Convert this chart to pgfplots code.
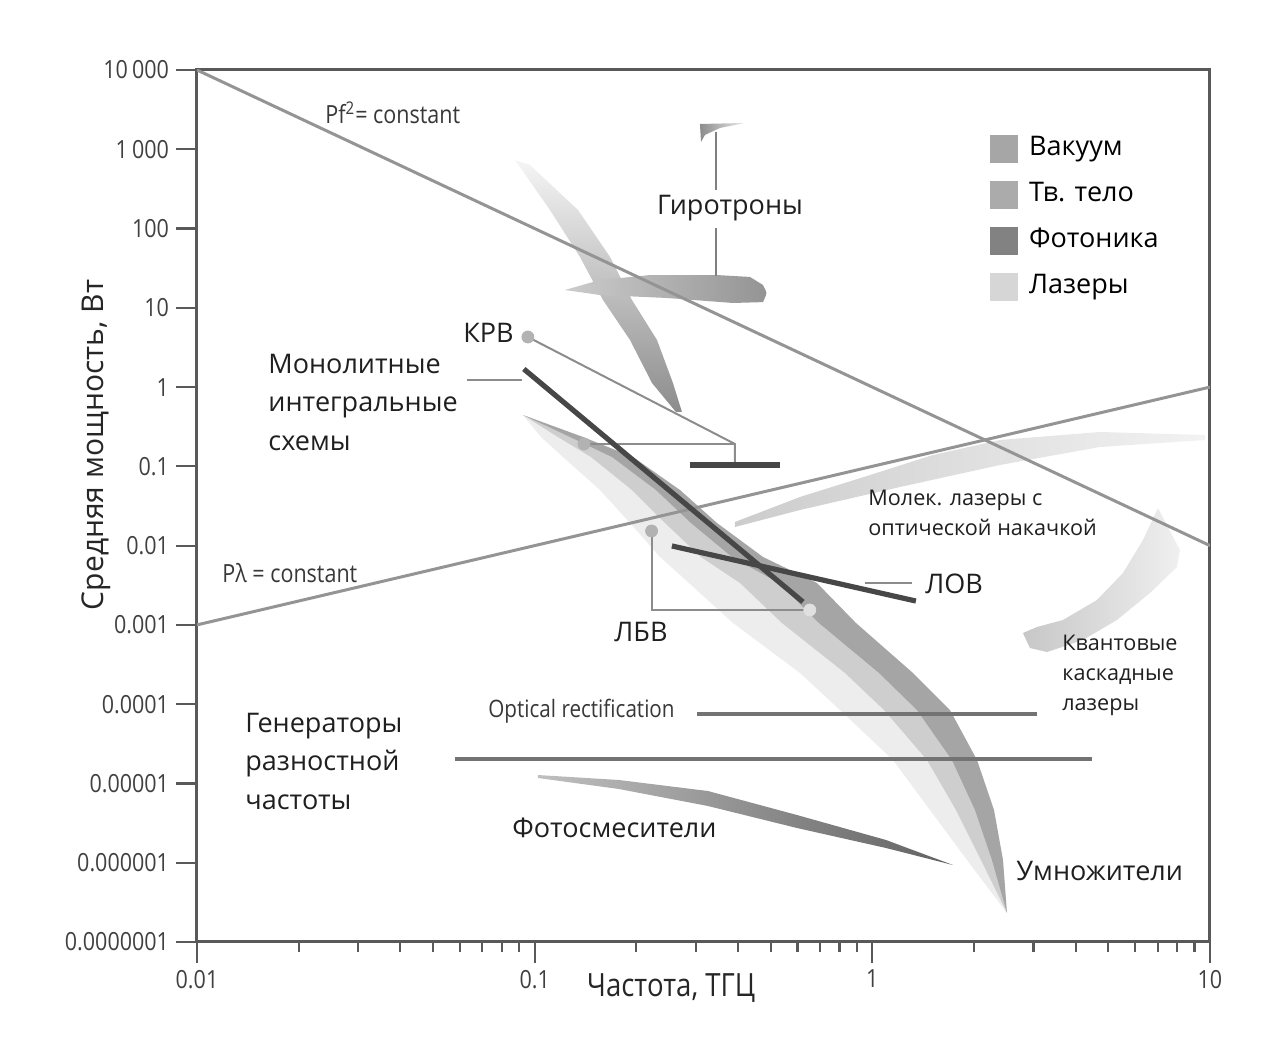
\documentclass[border=0pt]{standalone}
\usepackage{fontspec}
\setmainfont{Open Sans}
\newfontfamily\cond[FakeStretch=0.86]{Open Sans}
\usepackage{pgfplots}
\pgfplotsset{compat=1.18}

\begin{document}
\begin{tikzpicture}
\tikzset{
  lab/.style={font=\fontsize{13.5}{19.25}\selectfont, text=black!88, inner sep=0pt},
  slab/.style={font=\fontsize{10.8}{15}\selectfont, text=black!88, inner sep=0pt},
  clab/.style={font=\cond\fontsize{12.5}{14}\selectfont, text=black!78, inner sep=0pt},
}
\path[use as bounding box] (-98.5pt,-55pt) rectangle (534.5pt,471pt);
\begin{axis}[
  at={(0pt,0pt)}, anchor=south west,
  scale only axis, width=506.5pt, height=436pt,
  xmode=log, ymode=log,
  xmin=0.01, xmax=10, ymin=1e-7, ymax=1e4,
  xtick={0.01,0.1,1,10},
  xticklabels={0.01,0.1,1,10},
  minor xtick={0.02,0.03,0.04,0.05,0.06,0.07,0.08,0.09,0.2,0.3,0.4,0.5,0.6,0.7,0.8,0.9,2,3,4,5,6,7,8,9},
  ytick={1e-7,1e-6,1e-5,1e-4,1e-3,1e-2,1e-1,1,10,100,1000,10000},
  yticklabels={0.0000001,0.000001,0.00001,0.0001,0.001,0.01,0.1,1,10,100,1\,000,10\,000},
  minor ytick={1e-9},
  tick pos=left,
  tick align=outside,
  major tick length=10.5pt,
  minor tick length=5pt,
  tick style={black!65, line width=1.1pt},
  axis line style={black!65, line width=1.5pt},
  ticklabel style={font=\cond\fontsize{12.5}{14}\selectfont, text=black!75},
  xlabel={Частота, ТГЦ},
  xlabel style={at={(rel axis cs:0.468,-0.0528)}, anchor=center, font=\cond\fontsize{16}{18}\selectfont, text=black!85},
  ylabel={Средняя мощность, Вт},
  ylabel style={at={(rel axis cs:-0.0997,0.570)}, anchor=center, font=\fontsize{15}{17}\selectfont, text=black!85},
  legend style={at={(rel axis cs:0.7828,0.9294)}, anchor=north west, draw=none, fill=none,
    inner sep=0pt, row sep=6pt, font=\fontsize{13.5}{16}\selectfont,
    nodes={text height=10pt, text depth=3pt}},
  legend cell align=left,
]
% legend
\addlegendimage{legend image code/.code={\fill[black!35] (0pt,-6.75pt) rectangle (13.5pt,6.75pt); \path (17pt,0pt);}}
\addlegendentry{Вакуум}
\addlegendimage{legend image code/.code={\fill[black!33] (0pt,-6.75pt) rectangle (13.5pt,6.75pt); \path (17pt,0pt);}}
\addlegendentry{Тв. тело}
\addlegendimage{legend image code/.code={\fill[black!49] (0pt,-6.75pt) rectangle (13.5pt,6.75pt); \path (17pt,0pt);}}
\addlegendentry{Фотоника}
\addlegendimage{legend image code/.code={\fill[black!16] (0pt,-6.75pt) rectangle (13.5pt,6.75pt); \path (17pt,0pt);}}
\addlegendentry{Лазеры}

% lasers: molecular (optically pumped)
\addplot[draw=none, left color=black!20, right color=black!5] coordinates {
 (0.3920,0.01986) (0.6106,0.04106) (0.9643,0.07556) (1.512,0.1391) (2.388,0.2149) (4.723,0.2713) (9.664,0.2486)
 (9.664,0.2149) (4.723,0.1754) (2.388,0.1040) (1.208,0.05489) (0.6106,0.02814) (0.3920,0.01718)} -- cycle;
% lasers: QCL
\addplot[draw=none, left color=black!22, right color=black!6] coordinates {
 (2.793,7.900e-4) (3.074,9.406e-4) (3.670,0.001153) (4.628,0.002061) (5.525,0.004514) (6.333,0.011774) (7.015,0.02982)
 (8.149,0.008805) (7.984,0.005374) (6.642,0.002525) (5.303,0.001153) (4.206,6.449e-4) (3.291,4.550e-4) (2.930,5.110e-4)} -- cycle;

% solid state: multipliers (three layers)
\addplot[draw=none, fill=black, fill opacity=0.07] coordinates {
 (0.09235,0.4444) (0.1390,0.2346) (0.1955,0.1312) (0.2694,0.05031) (0.3467,0.01930) (0.4746,0.007184) (0.6857,0.003376)
 (0.8946,0.001056) (1.319,2.473e-4) (1.698,8.439e-5) (2.042,1.975e-5) (2.293,4.622e-6) (2.438,1.082e-6) (2.505,2.320e-7)
 (1.907,1.082e-6) (1.482,4.622e-6) (1.151,1.975e-5) (0.8021,8.439e-5) (0.6106,2.473e-4) (0.3867,0.001056)
 (0.2864,0.003376) (0.2350,0.007184) (0.1916,0.01930) (0.1561,0.05031) (0.1213,0.1312) (0.1044,0.2346)} -- cycle;
\addplot[draw=none, fill=black, fill opacity=0.13] coordinates {
 (0.09235,0.4444) (0.1390,0.2346) (0.1955,0.1312) (0.2694,0.05031) (0.3467,0.01930) (0.4746,0.007184) (0.6857,0.003376)
 (0.8946,0.001056) (1.319,2.473e-4) (1.698,8.439e-5) (2.042,1.975e-5) (2.293,4.622e-6) (2.438,1.082e-6) (2.505,2.320e-7)
 (2.098,1.082e-6) (1.769,4.622e-6) (1.452,1.975e-5) (1.083,8.439e-5) (0.8300,2.473e-4) (0.5400,0.001056)
 (0.4056,0.003376) (0.3109,0.007184) (0.2432,0.01930) (0.1942,0.05031) (0.1468,0.1312) (0.1172,0.2346)} -- cycle;
\addplot[draw=none, fill=black, fill opacity=0.2] coordinates {
 (0.09235,0.4444) (0.1390,0.2346) (0.1955,0.1312) (0.2694,0.05031) (0.3467,0.01930) (0.4746,0.007184) (0.6857,0.003376)
 (0.8946,0.001056) (1.319,2.473e-4) (1.698,8.439e-5) (2.042,1.975e-5) (2.293,4.622e-6) (2.438,1.082e-6) (2.505,2.320e-7)
 (2.261,1.082e-6) (2.014,4.622e-6) (1.721,1.975e-5) (1.356,8.439e-5) (1.047,2.473e-4) (0.6951,0.001056)
 (0.5291,0.003376) (0.3841,0.007184) (0.2904,0.01930) (0.2287,0.05031) (0.1694,0.1312) (0.1273,0.2346)} -- cycle;

% vacuum: streak
\addplot[draw=none, top color=black!4, bottom color=black!45] coordinates {
 (0.0875,732) (0.1110,171.4) (0.1362,43.8) (0.1594,12.54) (0.1916,3.93) (0.2226,1.126) (0.2621,0.485)
 (0.2731,0.485) (0.2568,1.126) (0.2303,3.93) (0.1942,12.54) (0.1672,43.8) (0.1344,171.4) (0.0969,633)} -- cycle;
% vacuum: gyrotrons
\addplot[draw=none, left color=black!20, right color=black!42] coordinates {
 (0.1229,16.78) (0.1561,22.4) (0.2196,25.9) (0.3467,25.9) (0.4342,24.5) (0.4745,19.4) (0.4875,15.4)
 (0.4745,11.8) (0.3866,11.5) (0.2465,13.3) (0.1561,14.5)} -- cycle;
\addplot[draw=none, left color=black!45, right color=black!8] coordinates {
 (0.3087,2083) (0.4198,2145) (0.3539,1855) (0.3194,1514) (0.311,1236)} -- cycle;

% photonics: photomixers
\addplot[draw=none, left color=black!25, right color=black!62] coordinates {
 (0.1023,1.277e-5) (0.1777,1.105e-5) (0.3261,8.025e-6) (0.5983,3.997e-6) (1.098,1.934e-6) (1.733,9.354e-7)
 (1.098,1.533e-6) (0.5983,2.740e-6) (0.3261,5.191e-6) (0.1777,8.505e-6) (0.1023,1.171e-5)} -- cycle;

% limit lines
\addplot[black!42, line width=1.5pt] coordinates {(0.01,10000) (10,0.01)};
\addplot[black!42, line width=1.5pt] coordinates {(0.01,0.001) (10,1)};

% thin leaders
\addplot[black!45, line width=1pt] coordinates {(0.0955,4.28) (0.392,0.1914) (0.392,0.104)};
\addplot[black!45, line width=1pt] coordinates {(0.140,0.1914) (0.392,0.1914)};
\addplot[black!45, line width=1pt] coordinates {(0.0630,1.227) (0.0917,1.227)};
\addplot[black!45, line width=1pt] coordinates {(0.222,0.0153) (0.222,0.00154) (0.653,0.00154)};
\addplot[black!45, line width=1pt] coordinates {(0.95,0.00338) (1.31,0.00338)};
\addplot[black!50, line width=1pt] coordinates {(0.3444,1652) (0.3444,306)};
\addplot[black!50, line width=1pt] coordinates {(0.3444,101.6) (0.3444,25.2)};

% thick device lines
\addplot[black!72, line width=2.6pt] coordinates {(0.0929,1.69) (0.623,0.00195)};
\addplot[black!72, line width=2.6pt] coordinates {(0.288,0.104) (0.532,0.104)};
\addplot[black!72, line width=2.6pt] coordinates {(0.255,0.0099) (1.346,0.0020)};

% photonics horizontal lines
\addplot[black!55, line width=2pt] coordinates {(0.303,7.52e-5) (3.07,7.52e-5)};
\addplot[black!55, line width=2pt] coordinates {(0.0581,2.03e-5) (4.47,2.03e-5)};

% dots
\addplot[black!30, only marks, mark=*, mark size=3pt, mark options={draw=black!30, fill=black!30}] coordinates {(0.0955,4.28) (0.140,0.1914) (0.222,0.0153)};
\addplot[black!12, only marks, mark=*, mark size=3pt, mark options={draw=black!12, fill=black!12}] coordinates {(0.653,0.00154)};

% labels
\node[clab, anchor=west] at (rel axis cs:0.1264,0.9507) {Pf\textsuperscript{2}= constant};
\node[lab, anchor=center] at (rel axis cs:0.5262,0.8417) {Гиротроны};
\node[lab, anchor=west] at (rel axis cs:0.2626,0.6984) {КРВ};
\node[lab, anchor=west, align=left] at (rel axis cs:0.0701,0.6187) {Монолитные\\интегральные\\схемы};
\node[slab, anchor=west, align=left] at (rel axis cs:0.6624,0.4920) {Молек. лазеры с\\оптической накачкой};
\node[clab, anchor=west] at (rel axis cs:0.0247,0.4232) {Pλ = constant};
\node[lab, anchor=west] at (rel axis cs:0.7187,0.4106) {ЛОВ};
\node[lab, anchor=center] at (rel axis cs:0.4383,0.3555) {ЛБВ};
\node[slab, anchor=west, align=left] at (rel axis cs:0.8539,0.3062) {Квантовые\\каскадные\\лазеры};
\node[clab, anchor=west, font=\cond\fontsize{12}{14}\selectfont] at (rel axis cs:0.2873,0.2649) {Optical rectification};
\node[lab, anchor=west, align=left] at (rel axis cs:0.0474,0.2070) {Генераторы\\разностной\\частоты};
\node[lab, anchor=west] at (rel axis cs:0.3110,0.1307) {Фотосмесители};
\node[lab, anchor=west] at (rel axis cs:0.8085,0.0814) {Умножители};
\end{axis}
\end{tikzpicture}
\end{document}
